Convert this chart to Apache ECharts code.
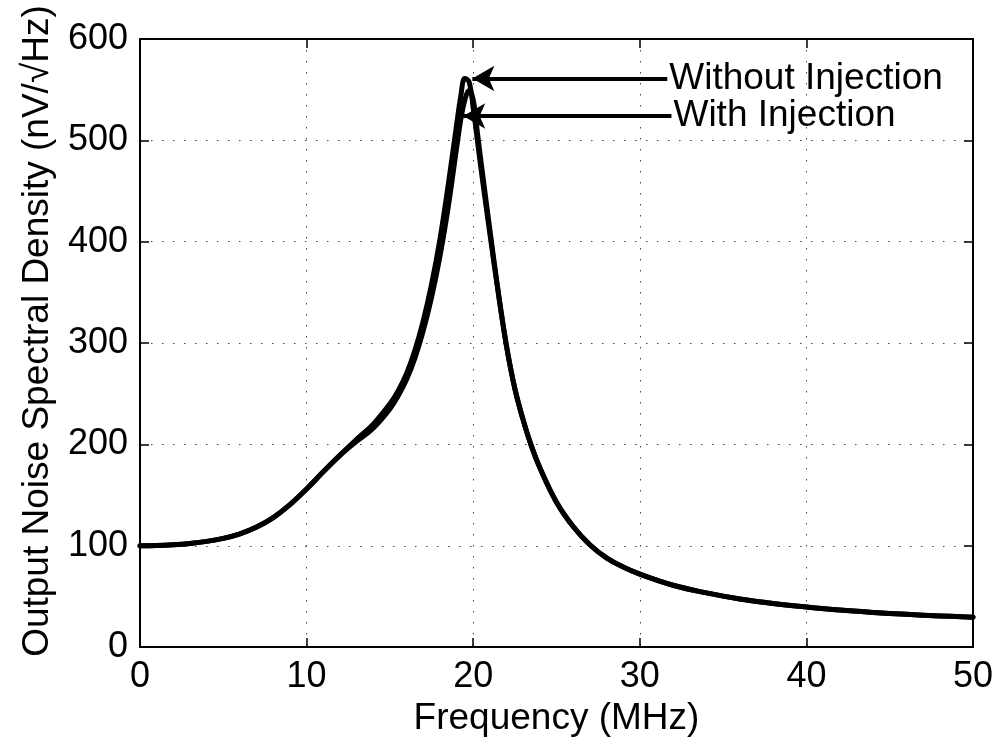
<!DOCTYPE html>
<html>
<head>
<meta charset="utf-8">
<script src="https://cdn.jsdelivr.net/npm/echarts@6/dist/echarts.min.js"></script>
<style>
  html, body { margin: 0; padding: 0; background: #fff; }
  #chart { width: 997px; height: 742px; }
</style>
</head>
<body>
<div id="chart"></div>
<script>
// Frequency samples (MHz)
const freq = [0, 1, 2, 3, 4, 5, 6, 7, 8, 9, 10, 11, 12, 13, 14, 15, 15.5, 16, 16.5, 17, 17.5,
  18, 18.5, 19, 19.25, 19.5, 19.75, 20, 20.25, 20.5, 21, 21.5, 22, 22.5, 23, 23.5, 24, 25, 26,
  27, 28, 29, 30, 32, 34, 36, 38, 40, 42, 44, 46, 48, 50];

// Output noise spectral density (nV/sqrt(Hz))
const withoutInjection = [100, 100.2, 101, 102.3, 104.3, 107.3, 111.8, 118.5, 127.8, 140.5, 156,
  173, 189.5, 205, 220, 240, 253, 270, 293, 322, 358, 402, 456, 515, 543, 561, 558, 532, 500,
  468, 408, 350, 297, 255, 224, 198, 177, 143, 119, 101, 88, 79, 72, 61, 53.5, 47.5, 43, 39.5,
  36.5, 34.2, 32.3, 30.8, 29.5];

const withInjection = [100, 100.2, 101, 102.3, 104.3, 107.3, 111.8, 118.5, 127.8, 140.5, 156,
  173, 189, 203, 216, 235, 248, 264, 285, 312, 345, 385, 434, 492, 520, 540, 549, 540, 508,
  475, 412, 351, 297, 255, 224, 198, 177, 143, 119, 101, 88, 79, 72, 61, 53.5, 47.5, 43, 39.5,
  36.5, 34.2, 32.3, 30.8, 29.5];

const xTicks = { min: 0, max: 50, interval: 10 };
const yTicks = { min: 0, max: 600, interval: 100 };

// Annotation arrows: [text, tail x, tip x, y]
const notes = [
  ['Without Injection', 31.65, 19.95, 561],
  ['With Injection', 31.9, 19.4, 524]
];

const FONT = "'Liberation Sans', Arial, Helvetica, sans-serif";

const pairs = ys => freq.map((f, i) => [f, ys[i]]);

const gridLine = { show: true, lineStyle: { color: '#444', width: 1, type: [1.5, 9.5] } };
const axisLine = { show: true, onZero: false, lineStyle: { color: '#000', width: 2 } };
const tick = { show: true, inside: true, length: 9, lineStyle: { color: '#000', width: 1.5 } };

const arrowLine = (n) => ({
  silent: true,
  symbol: ['none', 'arrow'],
  symbolSize: [19, 22],
  lineStyle: { color: '#000', width: 4, type: 'solid' },
  label: {
    show: true, position: 'start', distance: 2,
    formatter: n[0], color: '#000', fontFamily: FONT, fontSize: 37
  },
  data: [[{ coord: [n[1], n[3]] }, { coord: [n[2], n[3]] }]]
});

const curve = (name, ys, note) => ({
  name, type: 'line', data: pairs(ys),
  showSymbol: false, symbol: 'none', smooth: 0.4,
  lineStyle: { color: '#000', width: 5, join: 'round', cap: 'round' },
  markLine: arrowLine(note)
});

const chart = echarts.init(document.getElementById('chart'), null, { renderer: 'canvas' });
chart.setOption({
  animation: false,
  backgroundColor: '#fff',
  grid: { left: 140, right: 24, top: 39, bottom: 92, containLabel: false },
  xAxis: [{
    type: 'value', ...xTicks, position: 'bottom',
    name: 'Frequency (MHz)', nameLocation: 'middle', nameGap: 49,
    nameTextStyle: { color: '#000', fontFamily: FONT, fontSize: 37 },
    axisLine, axisTick: tick, splitLine: gridLine,
    axisLabel: { color: '#000', fontFamily: FONT, fontSize: 36, margin: 12 }
  }, {
    type: 'value', ...xTicks, position: 'top',
    axisLine, axisTick: tick, splitLine: { show: false }, axisLabel: { show: false }
  }],
  yAxis: [{
    type: 'value', ...yTicks, position: 'left',
    name: 'Output Noise Spectral Density (nV/\u221AHz)', nameLocation: 'middle', nameGap: 84,
    nameTextStyle: { color: '#000', fontFamily: FONT, fontSize: 37, padding: [0, 0, 0, 24] },
    axisLine, axisTick: tick, splitLine: gridLine,
    axisLabel: { color: '#000', fontFamily: FONT, fontSize: 36, margin: 12 }
  }, {
    type: 'value', ...yTicks, position: 'right',
    axisLine, axisTick: tick, splitLine: { show: false }, axisLabel: { show: false }
  }],
  series: [
    curve('Without Injection', withoutInjection, notes[0]),
    curve('With Injection', withInjection, notes[1])
  ]
});
</script>
</body>
</html>
